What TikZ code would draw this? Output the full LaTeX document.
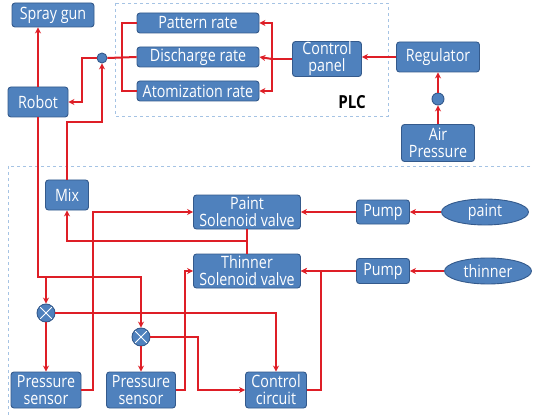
\documentclass[tikz,border=0pt]{standalone}
\usepackage{fontspec}
\setmainfont{Open Sans}[FakeStretch=0.84]
\usetikzlibrary{arrows.meta,shapes.geometric}
\definecolor{boxblue}{RGB}{79,129,189}
\definecolor{boxedge}{RGB}{52,90,140}
\definecolor{wirered}{RGB}{222,30,38}
\definecolor{dashblue}{RGB}{165,195,228}
\tikzset{
	block/.style={draw=boxedge, fill=boxblue, rounded corners=3pt, text=white, align=center,
		inner sep=0pt, line width=0.9pt, font=\fontsize{17}{17}\selectfont},
	ellblock/.style={block, ellipse},
	joint/.style={circle, draw=boxedge, fill=boxblue, line width=0.9pt, inner sep=0pt},
	mixer/.style={joint, minimum size=18pt,
		path picture={\draw[white, line width=0.9pt]
			(path picture bounding box.north west) -- (path picture bounding box.south east)
			(path picture bounding box.south west) -- (path picture bounding box.north east);}},
	wire/.style={draw=wirered, line width=2pt},
	arr/.style={wire, -{Stealth[length=6pt,width=6pt]}},
	frame/.style={draw=dashblue, dashed, line width=0.9pt}
}
\begin{document}
\begin{tikzpicture}[x=1pt, y=-1pt]
	\useasboundingbox (0,0) rectangle (533,417);
	\fill[white] (0,0) rectangle (533,417);
	
	\draw[frame] (115,3) rectangle (388,116);
	\draw[frame] (8,166) rectangle (560,430);
	\node[font=\bfseries\fontsize{18}{18}\selectfont] (plc) at (352,102) {PLC};
	
	\node[block, minimum width=82pt, minimum height=24pt] (spray) at (53,15) {Spray gun};
	\node[block, minimum width=60pt, minimum height=30pt] (robot) at (38,102) {Robot};
	\node[joint, minimum size=10pt] (jn) at (102,58) {};
	
	\node[block, minimum width=122pt, minimum height=20pt] (pattern) at (198,23) {Pattern rate};
	\node[block, minimum width=122pt, minimum height=20pt] (discharge) at (198,57) {Discharge rate};
	\node[block, minimum width=122pt, minimum height=20pt] (atom) at (198,91) {Atomization rate};
	\node[block, minimum width=69pt, minimum height=35pt] (panel) at (327,59) {Control\\panel};
	\node[block, minimum width=83pt, minimum height=30pt] (reg) at (438,57) {Regulator};
	\node[joint, minimum size=12pt] (adot) at (438,99) {};
	\node[block, minimum width=73pt, minimum height=37pt] (air) at (438,143) {Air\\Pressure};
	
	\node[block, minimum width=43pt, minimum height=30pt] (mix) at (67,195) {Mix};
	\node[block, minimum width=107pt, minimum height=34pt] (psv) at (247,212) {Paint\\Solenoid valve};
	\node[block, minimum width=107pt, minimum height=34pt] (tsv) at (247,271) {Thinner\\Solenoid valve};
	\node[block, minimum width=53pt, minimum height=24pt] (pump1) at (383,212) {Pump};
	\node[block, minimum width=53pt, minimum height=25pt] (pump2) at (383,271) {Pump};
	\node[ellblock, minimum width=87pt, minimum height=26pt] (paint) at (485,212) {paint};
	\node[ellblock, minimum width=87pt, minimum height=26pt] (thinner) at (488,271) {thinner};
	
	\node[mixer] (x1) at (46,313) {};
	\node[mixer] (x2) at (141,337) {};
	\node[block, minimum width=70pt, minimum height=36pt] (ps1) at (46,390) {Pressure\\sensor};
	\node[block, minimum width=69pt, minimum height=36pt] (ps2) at (141,390) {Pressure\\sensor};
	\node[block, minimum width=61pt, minimum height=36pt] (cc) at (276,390) {Control\\circuit};
	
	\draw[arr] (robot.north) -- (robot.north |- spray.south);
	\draw[arr] (jn.west) -- ++(-15,0) |- (robot.east);
	\draw[wire] (discharge.west) -- (jn.east);
	\draw[wire] (pattern.west) -- ++(-15,0) |- (atom.west);
	\draw[arr] (mix.north) -- ++(0,-58) -| (jn.south);
	
	\draw[wire] (panel.west) -- ++(-20,0) coordinate (pb);
	\draw[arr] (pb) |- (pattern.east);
	\draw[arr] (pb) -- (discharge.east);
	\draw[arr] (pb) |- (atom.east);
	\draw[arr] (reg.west) -- (reg.west -| panel.east);
	\draw[arr] (air.north) -- (adot.south);
	\draw[arr] (adot.north) -- (reg.south);
	
	\draw[arr] (robot.south) -- ++(0,160) coordinate (rb) -| (x2.north);
	\draw[arr] (rb -| x1.north) -- (x1.north);
	\draw[arr] (x1.south) -- (ps1.north);
	\draw[arr] (x2.south) -- (ps2.north);
	\draw[arr] (x1.east) -| (cc.north);
	\draw[arr] (x2.east) -- ++(48,0) |- (cc.west);
	
	\draw[arr] (ps1.east) -- ++(12,0) |- (psv.west);
	\draw[arr] (ps2.east) -- ++(9,0) |- (tsv.west);
	\draw[wire] (psv.south) -- (tsv.north);
	\draw[arr] ([yshift=-12pt]psv.south) -| (mix.south);
	
	\draw[arr] (pump1.west) -- (psv.east);
	\draw[arr] (paint.west) -- (pump1.east);
	\draw[arr] (thinner.west) -- (pump2.east);
	\draw[arr] (pump2.west) -- (tsv.east);
	\draw[arr] (cc.east) -- ++(14,0) |- (tsv.east);
\end{tikzpicture}
\end{document}
